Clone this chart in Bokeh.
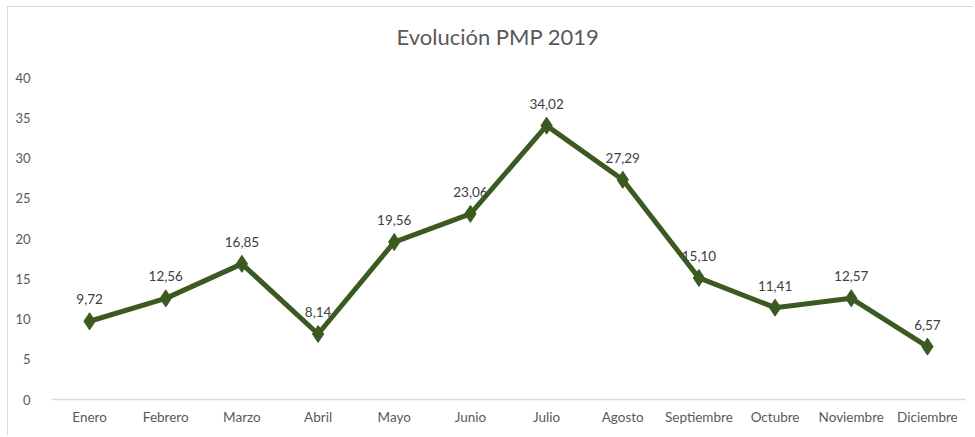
from bokeh.plotting import figure
from bokeh.models import ColumnDataSource, Range1d, FixedTicker, Title
from bokeh.core.properties import value
from bokeh.embed import file_html
from bokeh.resources import INLINE

months = ["Enero", "Febrero", "Marzo", "Abril", "Mayo", "Junio", "Julio",
          "Agosto", "Septiembre", "Octubre", "Noviembre", "Diciembre"]
pmp = [9.72, 12.56, 16.85, 8.14, 19.56, 23.06, 34.02, 27.29, 15.10, 11.41, 12.57, 6.57]
labels = ["9,72", "12,56", "16,85", "8,14", "19,56", "23,06", "34,02",
          "27,29", "15,10", "11,41", "12,57", "6,57"]
y_ticks = [0, 5, 10, 15, 20, 25, 30, 35, 40]

FONT = "Lato"
GREEN = "#3B5A1F"

src = ColumnDataSource(dict(m=months, v=pmp, lab=labels))

p = figure(x_range=months, y_range=Range1d(0, 40), width=966, height=429,
           output_backend="svg", toolbar_location=None,
           min_border_left=43, min_border_right=9, min_border_top=70, min_border_bottom=37)
p.styles = {"margin-left": "7px", "margin-top": "6px",
            "border-top": "1.5px solid #D9D9D9", "border-left": "1.5px solid #D9D9D9"}

p.title.text = "Evolución PMP 2019"
p.title.align = "left"
p.title.text_font = FONT
p.title.text_font_size = "22px"
p.title.text_font_style = "normal"
p.title.text_color = "#595959"
p.title.offset = 345

p.add_layout(Title(text=" ", text_font_size="19px", standoff=0), "above")

p.outline_line_color = None
p.xgrid.grid_line_color = None
p.ygrid.grid_line_color = None

p.yaxis.ticker = FixedTicker(ticks=y_ticks)
p.yaxis.axis_line_color = None
p.yaxis.major_tick_line_color = None
p.yaxis.minor_tick_line_color = None
p.yaxis.major_label_text_font = FONT
p.yaxis.major_label_text_font_size = "13px"
p.yaxis.major_label_text_color = "#595959"
p.yaxis.major_label_standoff = 15

p.xaxis.axis_line_color = "#D9D9D9"
p.xaxis.axis_line_width = 1.5
p.xaxis.major_tick_line_color = None
p.xaxis.minor_tick_line_color = None
p.xaxis.major_label_text_font = FONT
p.xaxis.major_label_text_font_size = "13.5px"
p.xaxis.major_label_text_color = "#595959"
p.xaxis.major_label_standoff = 3

p.line("m", "v", source=src, line_color=GREEN, line_width=5, line_join="round")
p.scatter("m", "v", source=src, marker="diamond", size=17, fill_color=GREEN, line_color=GREEN)
p.text("m", "v", text="lab", source=src, text_font=value(FONT), text_font_size="13.5px",
       text_color="#404040", text_align="center", text_baseline="middle", y_offset=-22)

open("out.html", "w").write(file_html(p, INLINE))
